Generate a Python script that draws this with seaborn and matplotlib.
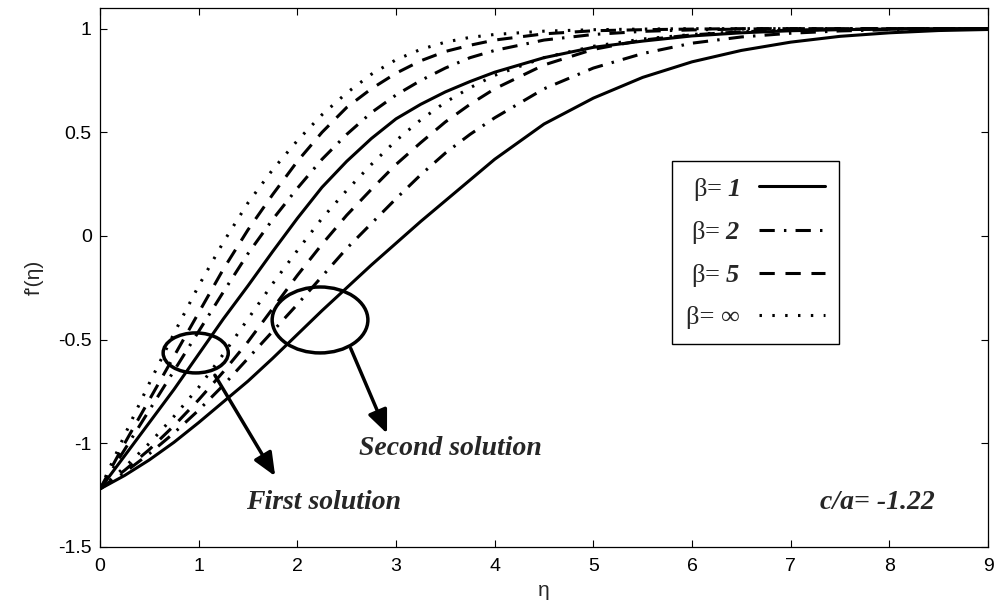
import matplotlib
matplotlib.use("Agg")
import matplotlib.pyplot as plt
from matplotlib.patches import Ellipse
from matplotlib.lines import Line2D
import numpy as np
import pandas as pd
import seaborn as sns

# similarity variable
eta = [0, 0.25, 0.5, 0.75, 1.0, 1.25, 1.5, 1.75, 2.0, 2.25, 2.5, 2.75, 3.0,
       3.25, 3.5, 3.75, 4.0, 4.5, 5.0, 5.5, 6.0, 6.5, 7.0, 7.5, 8.0, 8.5, 9.0]

# first solution, f'(eta)
first_b1 = [-1.22, -1.06, -0.90, -0.74, -0.57, -0.40, -0.24, -0.075, 0.085, 0.235, 0.36, 0.47, 0.565,
            0.635, 0.695, 0.745, 0.79, 0.86, 0.91, 0.94, 0.965, 0.98, 0.99, 0.995, 0.998, 1.0, 1.0]
first_b2 = [-1.22, -1.03, -0.84, -0.65, -0.46, -0.27, -0.085, 0.08, 0.23, 0.37, 0.49, 0.595, 0.68,
            0.75, 0.81, 0.86, 0.895, 0.945, 0.972, 0.987, 0.994, 0.998, 1.0, 1.0, 1.0, 1.0, 1.0]
first_b5 = [-1.22, -1.0, -0.79, -0.58, -0.37, -0.16, 0.03, 0.20, 0.36, 0.50, 0.62, 0.71, 0.785,
            0.845, 0.89, 0.92, 0.945, 0.975, 0.99, 0.995, 0.998, 1.0, 1.0, 1.0, 1.0, 1.0, 1.0]
first_binf = [-1.22, -0.96, -0.71, -0.47, -0.24, -0.03, 0.16, 0.32, 0.46, 0.585, 0.69, 0.78, 0.85,
              0.90, 0.935, 0.958, 0.972, 0.988, 0.995, 0.998, 1.0, 1.0, 1.0, 1.0, 1.0, 1.0, 1.0]

# second solution, f'(eta)
second_b1 = [-1.22, -1.155, -1.08, -0.995, -0.90, -0.80, -0.70, -0.59, -0.475, -0.36, -0.25, -0.14, -0.035,
             0.07, 0.17, 0.27, 0.37, 0.54, 0.665, 0.765, 0.84, 0.895, 0.935, 0.963, 0.98, 0.991, 0.996]
second_b2 = [-1.22, -1.14, -1.05, -0.95, -0.84, -0.72, -0.59, -0.46, -0.33, -0.195, -0.06, 0.06, 0.18,
             0.295, 0.40, 0.49, 0.57, 0.71, 0.81, 0.88, 0.93, 0.96, 0.978, 0.989, 0.995, 0.998, 1.0]
second_b5 = [-1.22, -1.13, -1.03, -0.915, -0.79, -0.655, -0.51, -0.35, -0.19, -0.04, 0.10, 0.225, 0.345,
             0.45, 0.55, 0.635, 0.71, 0.825, 0.90, 0.945, 0.97, 0.985, 0.993, 0.997, 0.999, 1.0, 1.0]
second_binf = [-1.22, -1.115, -1.0, -0.87, -0.73, -0.57, -0.40, -0.23, -0.07, 0.085, 0.22, 0.345, 0.46,
               0.56, 0.645, 0.715, 0.775, 0.86, 0.915, 0.95, 0.972, 0.986, 0.993, 0.997, 0.999, 1.0, 1.0]

beta_labels = ["1", "2", "5", "inf"]
legend_texts = [r"β= $\mathbfit{1}$", r"β= $\mathbfit{2}$", r"β= $\mathbfit{5}$", "β= ∞"]
line_styles = {"1": "-",
               "2": (0, (5.0, 3.0, 0.8, 3.0)),
               "5": (0, (5.0, 3.5)),
               "inf": (0, (0.8, 3.4))}

first_set = [first_b1, first_b2, first_b5, first_binf]
second_set = [second_b1, second_b2, second_b5, second_binf]

sns.set_style("ticks")
plt.rcParams["font.family"] = ["Liberation Sans", "DejaVu Sans"]
plt.rcParams["mathtext.fontset"] = "custom"
plt.rcParams["mathtext.rm"] = "Liberation Serif"
plt.rcParams["mathtext.it"] = "Liberation Serif:italic"
plt.rcParams["mathtext.bf"] = "Liberation Serif:bold"
try:
    plt.rcParams["mathtext.bfit"] = "Liberation Serif:bold:italic"
except KeyError:
    pass

fig = plt.figure(figsize=(9.94, 6.10), dpi=100)
ax = fig.add_axes([0.1006, 0.1033, 0.8934, 0.8837])

lw = 2.2
for lab, f1, f2 in zip(beta_labels, first_set, second_set):
    for vals in (f1, f2):
        sns.lineplot(x=eta, y=vals, ax=ax, color="black", linewidth=lw,
                     linestyle=line_styles[lab], legend=False)

ax.set_xlim(0, 9)
ax.set_ylim(-1.5, 1.1)
ax.set_xticks(range(0, 10))
ax.set_yticks([-1.5, -1, -0.5, 0, 0.5, 1])
ax.set_yticklabels(["-1.5", "-1", "-0.5", "0", "0.5", "1"])
ax.tick_params(direction="in", top=True, right=True, length=5, width=0.8,
               labelsize=14, colors="black")
ax.tick_params(axis="x", pad=8)
ax.tick_params(axis="y", pad=6)
for sp in ax.spines.values():
    sp.set_visible(True)
    sp.set_color("black")
    sp.set_linewidth(0.9)

ax.set_xlabel("η", fontsize=15, labelpad=4)
ax.set_ylabel("f'(η)", fontsize=15, labelpad=10)

# legend with the line samples to the right of the labels
handles = [Line2D([0], [0], color="black", lw=lw, linestyle=line_styles[b]) for b in beta_labels]
leg = ax.legend(handles, legend_texts, loc="upper left", bbox_to_anchor=(0.644, 0.716),
                borderaxespad=0.0, markerfirst=False, handlelength=2.5, handletextpad=0.7,
                labelspacing=0.62, borderpad=0.55, fancybox=False, frameon=True, framealpha=1,
                prop={"family": "Liberation Serif", "size": 19})
leg.get_frame().set_edgecolor("black")
leg.get_frame().set_linewidth(1.0)

# markers around the two solution branches
ax.add_patch(Ellipse((0.97, -0.564), 0.66, 0.193, fill=False, edgecolor="black", lw=2.5))
ax.add_patch(Ellipse((2.23, -0.405), 0.97, 0.318, fill=False, edgecolor="black", lw=2.5))
arrow_kw = dict(arrowstyle="-|>,head_length=1.4,head_width=0.6", color="black", lw=2.5)
ax.annotate("", xy=(1.79, -1.17), xytext=(1.15, -0.66), arrowprops=arrow_kw)
ax.annotate("", xy=(2.92, -0.965), xytext=(2.53, -0.53), arrowprops=arrow_kw)

serif_bi = dict(family="Liberation Serif", weight="bold", style="italic", fontsize=20,
                ha="center", va="center")
ax.text(3.55, -1.027, "Second solution", **serif_bi)
ax.text(2.265, -1.287, "First solution", **serif_bi)
ax.text(7.88, -1.287, "c/a= -1.22", **serif_bi)

fig.savefig("out.png", dpi=100)
